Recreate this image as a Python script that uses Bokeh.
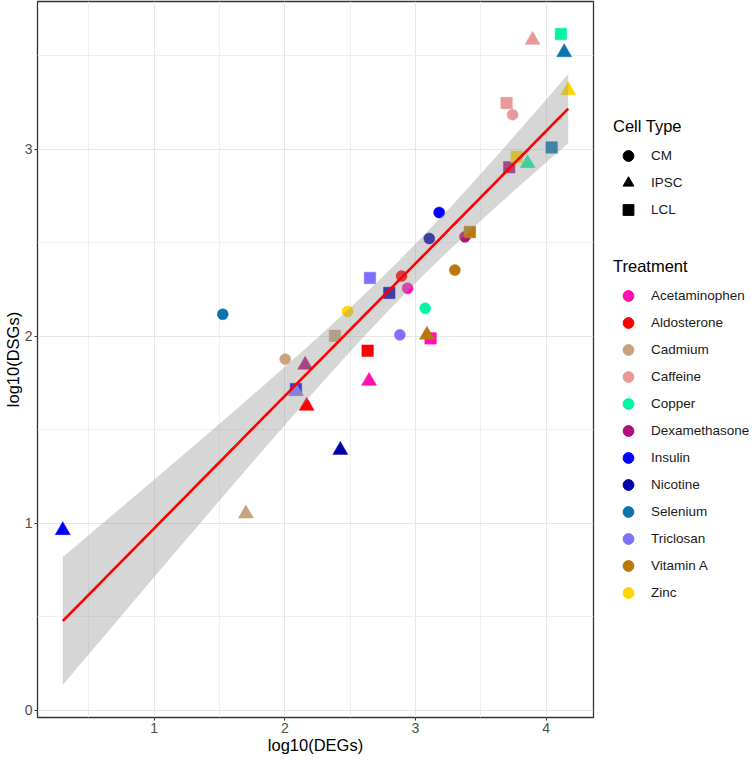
import numpy as np
from bokeh.plotting import figure
from bokeh.layouts import row
from bokeh.models import ColumnDataSource, Range1d, FixedTicker, Legend, LegendItem
from bokeh.embed import file_html
from bokeh.resources import INLINE

# ---------------- data ----------------
treatments = ["Acetaminophen", "Aldosterone", "Cadmium", "Caffeine", "Copper",
              "Dexamethasone", "Insulin", "Nicotine", "Selenium", "Triclosan",
              "Vitamin A", "Zinc"]
treatment_colors = ["#ff10b0", "#ff0000", "#c9a27e", "#e89a9a", "#00f5a0",
                    "#b0107a", "#0000ff", "#0000aa", "#0a74b0", "#8070ff",
                    "#b8780a", "#ffd700"]
cell_types = ["CM", "IPSC", "LCL"]

# log10(DEGs) / log10(DSGs) per treatment (same order as treatments)
cm_log10_degs = [2.940, 2.894, 2.003, 3.744, 3.075, 3.379, 3.182, 3.106, 1.525, 2.881, 3.302, 2.481]
cm_log10_dsgs = [2.256, 2.321, 1.877, 3.184, 2.149, 2.531, 2.661, 2.522, 2.117, 2.007, 2.353, 2.132]
ipsc_log10_degs = [2.645, 2.167, 1.702, 3.897, 3.859, 2.156, 0.300, 2.425, 4.139, 2.085, 3.088, 4.170]
ipsc_log10_dsgs = [1.760, 1.627, 1.051, 3.583, 2.924, 1.846, 0.962, 1.391, 3.517, 1.705, 2.007, 3.314]
lcl_log10_degs = [3.116, 2.634, 2.384, 3.698, 4.114, 3.718, 2.085, 2.800, 4.043, 2.652, 3.417, 3.775]
lcl_log10_dsgs = [1.988, 1.922, 2.002, 3.246, 3.615, 2.903, 1.717, 2.231, 3.009, 2.311, 2.557, 2.959]

x_ticks = [1, 2, 3, 4]
y_ticks = [0, 1, 2, 3]

# ---------------- styles ----------------
FONT = "Liberation Sans"
marker_of = {"CM": "circle", "IPSC": "triangle", "LCL": "square"}
size_of = {"circle": 11, "triangle": 15, "square": 11.5}

per_cell = {
    "CM": (cm_log10_degs, cm_log10_dsgs),
    "IPSC": (ipsc_log10_degs, ipsc_log10_dsgs),
    "LCL": (lcl_log10_degs, lcl_log10_dsgs),
}

xs, ys, cols, marks, sizes = [], [], [], [], []
for i, t in enumerate(treatments):
    for c in cell_types:
        xs.append(per_cell[c][0][i])
        ys.append(per_cell[c][1][i])
        cols.append(treatment_colors[i])
        marks.append(marker_of[c])
        sizes.append(size_of[marker_of[c]])

src = ColumnDataSource(dict(x=xs, y=ys, color=cols, marker=marks, size=sizes))

# ---------------- linear fit with 95% CI (like geom_smooth(method="lm")) ----------------
x = np.array(xs)
y = np.array(ys)
n = len(x)
slope, intercept = np.polyfit(x, y, 1)
grid = np.linspace(x.min(), x.max(), 100)
fit = intercept + slope * grid
resid = y - (intercept + slope * x)
s = np.sqrt(np.sum(resid ** 2) / (n - 2))
sxx = np.sum((x - x.mean()) ** 2)
se = s * np.sqrt(1.0 / n + (grid - x.mean()) ** 2 / sxx)
tq = 2.0322  # t(0.975, df=34)
lo = fit - tq * se
hi = fit + tq * se

xmin, xmax = x.min(), x.max()
xpad = 0.05 * (xmax - xmin)
ymin, ymax = min(y.min(), lo.min()), max(y.max(), hi.max())
ypad = 0.05 * (ymax - ymin)

FIG_H = 758

p = figure(width=602, height=FIG_H, output_backend="svg", toolbar_location=None,
           x_range=Range1d(xmin - xpad, xmax + xpad),
           y_range=Range1d(ymin - ypad, ymax + ypad),
           min_border_left=37, min_border_right=9, min_border_top=1,
           min_border_bottom=41)

p.background_fill_color = "white"
p.outline_line_color = "#333333"
p.outline_line_width = 1.3

p.xaxis.ticker = FixedTicker(ticks=x_ticks, minor_ticks=[0.5, 1.5, 2.5, 3.5])
p.yaxis.ticker = FixedTicker(ticks=y_ticks, minor_ticks=[0.5, 1.5, 2.5, 3.5])
for ax in (p.xaxis, p.yaxis):
    ax.axis_line_color = None
    ax.major_tick_line_color = "#333333"
    ax.major_tick_in = 0
    ax.major_tick_out = 3
    ax.minor_tick_line_color = None
    ax.major_label_text_font = FONT
    ax.major_label_text_font_size = "14px"
    ax.major_label_text_color = "#4d4d4d"
    ax.major_label_standoff = 1
    ax.axis_label_text_font = FONT
    ax.axis_label_text_font_size = "16.5px"
    ax.axis_label_text_font_style = "normal"
    ax.axis_label_text_color = "black"
    ax.axis_label_standoff = 0
p.xaxis.axis_label = "log10(DEGs)"
p.yaxis.axis_label = "log10(DSGs)"

for g in (p.xgrid, p.ygrid):
    g.grid_line_color = "#e6e6e6"
    g.grid_line_width = 1
    g.minor_grid_line_color = "#efefef"
    g.minor_grid_line_width = 1

# points
p.scatter("x", "y", source=src, marker="marker", size="size",
          fill_color="color", line_color="color", line_width=0.5)

# ribbon + line
p.varea(x=grid, y1=lo, y2=hi, fill_color="#999999", fill_alpha=0.4)
p.line(grid, fit, line_color="#ff0000", line_width=2.6)

# ---------------- legend panel ----------------
lp = figure(width=149, height=FIG_H, output_backend="svg", toolbar_location=None,
            x_range=Range1d(0, 1), y_range=Range1d(0, 1),
            x_axis_location=None, y_axis_location=None,
            min_border_left=0, min_border_right=0, min_border_top=0,
            min_border_bottom=0)
lp.outline_line_color = None
lp.grid.visible = False

# legend-only key glyphs (placed outside the visible range of the legend panel)
cell_items = []
for c in cell_types:
    r = lp.scatter([-1], [-1], marker=marker_of[c], size=10, color="black")
    cell_items.append(LegendItem(label=c, renderers=[r]))
treat_items = []
for t, col in zip(treatments, treatment_colors):
    r = lp.scatter([-1], [-1], marker="circle", size=10, color=col)
    treat_items.append(LegendItem(label=t, renderers=[r]))


def style_legend(lg):
    lg.border_line_color = None
    lg.background_fill_alpha = 0
    lg.padding = 0
    lg.margin = 0
    lg.spacing = 0
    lg.glyph_width = 30
    lg.glyph_height = 27
    lg.label_height = 27
    lg.label_standoff = 8
    lg.label_text_font = FONT
    lg.label_text_font_size = "13.5px"
    lg.label_text_color = "#1a1a1a"
    lg.label_text_baseline = "middle"
    lg.title_text_font = FONT
    lg.title_text_font_size = "16.5px"
    lg.title_text_font_style = "normal"
    lg.title_text_color = "black"
    lg.title_standoff = 6


leg_cell = Legend(items=cell_items, title="Cell Type", location=(11, 494))
leg_treat = Legend(items=treat_items, title="Treatment", location=(11, 111))
style_legend(leg_cell)
style_legend(leg_treat)
lp.add_layout(leg_cell)
lp.add_layout(leg_treat)

layout = row(p, lp, spacing=0)
open("out.html", "w").write(file_html(layout, INLINE))
